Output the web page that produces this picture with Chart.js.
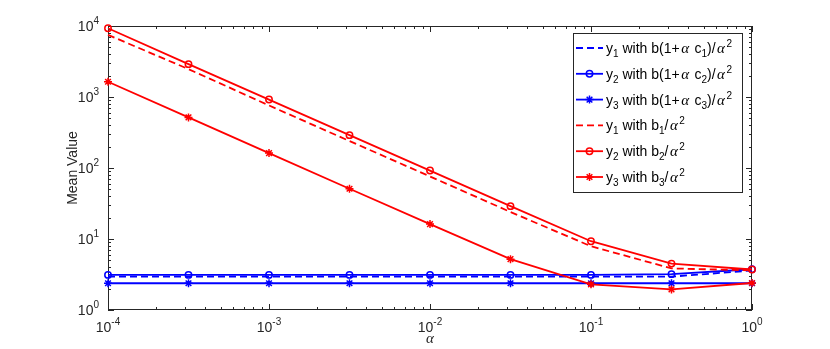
<!DOCTYPE html>
<html>
<head>
<meta charset="utf-8">
<script src="https://cdn.jsdelivr.net/npm/chart.js@4.4.0/dist/chart.umd.min.js"></script>
<style>
  html, body { margin: 0; padding: 0; background: #fff; }
  #wrap { width: 830px; height: 349px; position: relative; }
</style>
</head>
<body>
<div id="wrap"><canvas id="chart"></canvas></div>
<script>
// alpha values (x axis, log)
var alphas = [1e-4, 3.162e-4, 1e-3, 3.162e-3, 1e-2, 3.162e-2, 1e-1, 3.162e-1, 1];

// blue: b(1+alpha c_i)/alpha^2
var blueY1 = [2.95, 2.95, 2.95, 2.95, 2.95, 2.95, 2.95, 2.95, 3.6];
var blueY2 = [3.12, 3.12, 3.12, 3.12, 3.12, 3.12, 3.12, 3.2, 3.75];
var blueY3 = [2.38, 2.38, 2.38, 2.38, 2.38, 2.38, 2.38, 2.38, 2.38];

// red: b_i/alpha^2
var redY1 = [7500, 2470, 760, 240, 76, 24, 7.9, 3.85, 3.62];
var redY2 = [9300, 2900, 920, 290, 92, 29, 9.3, 4.5, 3.72];
var redY3 = [1640, 516, 162, 51, 16.2, 5.2, 2.3, 1.95, 2.4];

var xDecades = [-4, -3, -2, -1, 0];
var yDecades = [0, 1, 2, 3, 4];

var RED = '#ff0000', BLUE = '#0000ff';
var FONT = '"Liberation Sans", Helvetica, Arial, sans-serif';
var GREEK = '"Liberation Serif", "DejaVu Serif", serif';

function pts(ys) {
  return alphas.map(function(a, i) { return { x: a, y: ys[i] }; });
}

function series(label, ys, color, style, dashed, order) {
  return {
    label: label,
    data: pts(ys),
    borderColor: color,
    backgroundColor: color,
    borderWidth: 1.8,
    borderDash: dashed ? [7, 4] : [],
    pointStyle: style || 'circle',
    pointRadius: style ? (style === 'star' ? 4 : 3.2) : 0,
    pointBorderWidth: 1.5,
    pointBackgroundColor: 'rgba(0,0,0,0)',
    pointBorderColor: color,
    tension: 0,
    clip: false,
    order: order
  };
}

// legend rows: runs of text, sub = subscript, sup = superscript, g = greek
var legendRows = [
  { color: BLUE, dashed: true, marker: null, runs: [['y'], ['1', 'sub'], [' with b(1+'], ['\u03b1', 'g'], [' c'], ['1', 'sub'], [')/'], ['\u03b1', 'g'], ['2', 'sup']] },
  { color: BLUE, dashed: false, marker: 'circle', runs: [['y'], ['2', 'sub'], [' with b(1+'], ['\u03b1', 'g'], [' c'], ['2', 'sub'], [')/'], ['\u03b1', 'g'], ['2', 'sup']] },
  { color: BLUE, dashed: false, marker: 'star', runs: [['y'], ['3', 'sub'], [' with b(1+'], ['\u03b1', 'g'], [' c'], ['3', 'sub'], [')/'], ['\u03b1', 'g'], ['2', 'sup']] },
  { color: RED, dashed: true, marker: null, runs: [['y'], ['1', 'sub'], [' with b'], ['1', 'sub'], ['/'], ['\u03b1', 'g'], ['2', 'sup']] },
  { color: RED, dashed: false, marker: 'circle', runs: [['y'], ['2', 'sub'], [' with b'], ['2', 'sub'], ['/'], ['\u03b1', 'g'], ['2', 'sup']] },
  { color: RED, dashed: false, marker: 'star', runs: [['y'], ['3', 'sub'], [' with b'], ['3', 'sub'], ['/'], ['\u03b1', 'g'], ['2', 'sup']] }
];

function runFont(kind) {
  if (kind === 'sub' || kind === 'sup') return '10px ' + FONT;
  if (kind === 'supt') return '10px ' + FONT;
  if (kind === 'g') return 'italic 15px ' + GREEK;
  if (kind === 'tick') return '14px ' + FONT;
  return '14px ' + FONT;
}
function runDy(kind) {
  if (kind === 'sub') return 4;
  if (kind === 'sup') return -6;
  if (kind === 'supt') return -7;
  return 0;
}
function runPad(kind) {
  return kind === 'g' ? 1.5 : 0;
}

function drawRuns(ctx, runs, x, y, align) {
  var total = 0;
  runs.forEach(function(r) {
    ctx.font = runFont(r[1]);
    r.w = ctx.measureText(r[0]).width + 2 * runPad(r[1]);
    total += r.w;
  });
  var cx = align === 'center' ? x - total / 2 : (align === 'right' ? x - total : x);
  ctx.textAlign = 'left';
  ctx.textBaseline = 'alphabetic';
  runs.forEach(function(r) {
    ctx.font = runFont(r[1]);
    ctx.fillText(r[0], cx + runPad(r[1]), y + runDy(r[1]));
    cx += r.w;
  });
}

function drawMarker(ctx, kind, x, y, color) {
  ctx.save();
  ctx.strokeStyle = color;
  ctx.lineWidth = 1.5;
  ctx.setLineDash([]);
  ctx.beginPath();
  if (kind === 'circle') {
    ctx.arc(x, y, 3.2, 0, Math.PI * 2);
  } else if (kind === 'star') {
    var r = 4, d = r * Math.SQRT1_2;
    ctx.moveTo(x - r, y); ctx.lineTo(x + r, y);
    ctx.moveTo(x, y - r); ctx.lineTo(x, y + r);
    ctx.moveTo(x - d, y - d); ctx.lineTo(x + d, y + d);
    ctx.moveTo(x - d, y + d); ctx.lineTo(x + d, y - d);
  }
  ctx.stroke();
  ctx.restore();
}

var axesPlugin = {
  id: 'matlabAxes',
  beforeDatasetsDraw: function(chart) {
    var ctx = chart.ctx, a = chart.chartArea;
    var xs = chart.scales.x, ys = chart.scales.y;
    ctx.save();
    ctx.strokeStyle = '#262626';
    ctx.lineWidth = 1;
    ctx.beginPath();
    // x ticks, top and bottom, pointing inward
    xDecades.forEach(function(e) {
      for (var m = 1; m <= 9; m++) {
        var v = m * Math.pow(10, e);
        if (v > 1.0000001) break;
        var px = Math.round(xs.getPixelForValue(v)) + 0.5;
        var len = m === 1 ? 6 : 3;
        ctx.moveTo(px, a.bottom); ctx.lineTo(px, a.bottom - len);
        ctx.moveTo(px, a.top); ctx.lineTo(px, a.top + len);
      }
    });
    yDecades.forEach(function(e) {
      for (var m = 1; m <= 9; m++) {
        var v = m * Math.pow(10, e);
        if (v > 10000.001) break;
        var py = Math.round(ys.getPixelForValue(v)) + 0.5;
        var len = m === 1 ? 6 : 3;
        ctx.moveTo(a.left, py); ctx.lineTo(a.left + len, py);
        ctx.moveTo(a.right, py); ctx.lineTo(a.right - len, py);
      }
    });
    ctx.stroke();
    ctx.strokeRect(a.left + 0.5, a.top + 0.5, a.right - a.left - 1, a.bottom - a.top - 1);

    // tick labels
    ctx.fillStyle = '#262626';
    xDecades.forEach(function(e) {
      var px = xs.getPixelForValue(Math.pow(10, e));
      drawRuns(ctx, [['10', 'tick'], [String(e), 'supt']], px, a.bottom + 22, 'center');
    });
    yDecades.forEach(function(e) {
      var py = ys.getPixelForValue(Math.pow(10, e));
      drawRuns(ctx, [['10', 'tick'], [String(e), 'supt']], a.left - 9, py + 5, 'right');
    });

    // axis titles
    ctx.font = '14px ' + FONT;
    ctx.textAlign = 'center';
    ctx.textBaseline = 'middle';
    ctx.save();
    ctx.translate(73, (a.top + a.bottom) / 2);
    ctx.rotate(-Math.PI / 2);
    ctx.fillText('Mean Value', 0, 0);
    ctx.restore();
    ctx.font = 'italic 15px ' + GREEK;
    ctx.fillText('\u03b1', (a.left + a.right) / 2, 339);
    ctx.restore();
  },
  afterDatasetsDraw: function(chart) {
    var ctx = chart.ctx;
    var lx = 573, ly = 33, lw = 169, lh = 159;
    ctx.save();
    ctx.fillStyle = '#ffffff';
    ctx.fillRect(lx, ly, lw, lh);
    ctx.strokeStyle = '#262626';
    ctx.lineWidth = 1;
    ctx.strokeRect(lx + 0.5, ly + 0.5, lw, lh);
    legendRows.forEach(function(row, i) {
      var cy = 48 + i * 25.8;
      ctx.strokeStyle = row.color;
      ctx.lineWidth = 1.8;
      ctx.setLineDash(row.dashed ? [7, 4] : []);
      ctx.beginPath();
      ctx.moveTo(576, cy); ctx.lineTo(603, cy);
      ctx.stroke();
      ctx.setLineDash([]);
      if (row.marker) drawMarker(ctx, row.marker, 589.5, cy, row.color);
      ctx.fillStyle = '#000';
      drawRuns(ctx, row.runs, 606, cy + 5, 'left');
    });
    ctx.restore();
  }
};

new Chart(document.getElementById('chart'), {
  type: 'line',
  data: {
    datasets: [
      series('y1 b(1+a c1)/a^2', blueY1, BLUE, null, true, 2),
      series('y2 b(1+a c2)/a^2', blueY2, BLUE, 'circle', false, 2),
      series('y3 b(1+a c3)/a^2', blueY3, BLUE, 'star', false, 2),
      series('y1 b1/a^2', redY1, RED, null, true, 1),
      series('y2 b2/a^2', redY2, RED, 'circle', false, 1),
      series('y3 b3/a^2', redY3, RED, 'star', false, 1)
    ]
  },
  options: {
    responsive: true,
    maintainAspectRatio: false,
    animation: false,
    layout: { padding: { left: 108, right: 78, top: 26, bottom: 39 } },
    plugins: { legend: { display: false }, tooltip: { enabled: false } },
    scales: {
      x: { type: 'logarithmic', min: 1e-4, max: 1, display: false },
      y: { type: 'logarithmic', min: 1, max: 1e4, display: false }
    }
  },
  plugins: [axesPlugin]
});
</script>
</body>
</html>
